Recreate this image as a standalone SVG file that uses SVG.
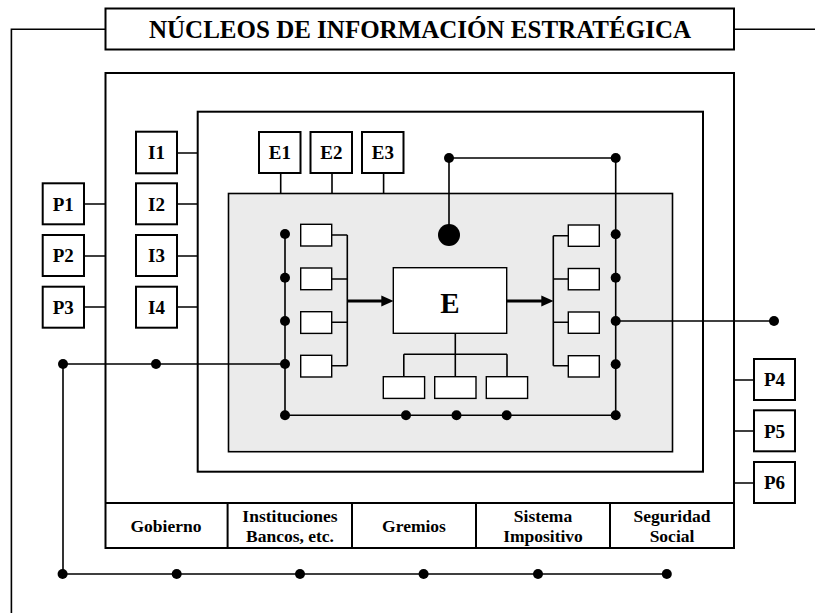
<svg xmlns="http://www.w3.org/2000/svg" width="815" height="613" viewBox="0 0 815 613">
<style>
.frame{fill:none;stroke:#000;stroke-width:2}
.box{fill:#fff;stroke:#000;stroke-width:2}
.sbox{fill:#fff;stroke:#000;stroke-width:1.4}
.grey{fill:#ebebeb;stroke:#000;stroke-width:1.6}
.ln{fill:none;stroke:#000;stroke-width:1.6}
.arr{fill:none;stroke:#000;stroke-width:3;marker-end:url(#ah)}
.dot{fill:#000}
text{font-family:"Liberation Serif","Times New Roman",serif;font-weight:bold;fill:#000;text-anchor:middle}
.lbl{font-size:19px}
.tbl{font-size:17.5px}
</style>
<defs>
<marker id="ah" markerUnits="userSpaceOnUse" markerWidth="12" markerHeight="12" refX="4" refY="6" orient="auto">
<path d="M0,0.5 L12,6 L0,11.5 z" fill="#000"/>
</marker>
</defs>
<rect width="815" height="613" fill="#fff"/>

<g id="title">
<rect class="box" x="105.5" y="8.5" width="628.5" height="41"/>
<text x="420" y="38" font-size="25">NÚCLEOS DE INFORMACIÓN ESTRATÉGICA</text>
</g>

<g id="outer-frame">
<rect class="frame" x="105.5" y="73" width="628.5" height="475"/>
</g>

<g id="table">
<path class="frame" d="M105.5,503 H734 M227.6,503 V548 M352,503 V548 M476,503 V548 M610,503 V548"/>
<text class="tbl" x="166" y="531.7">Gobierno</text>
<text class="tbl" x="290" y="521.7">Instituciones</text>
<text class="tbl" x="290" y="541.7">Bancos, etc.</text>
<text class="tbl" x="414" y="531.7">Gremios</text>
<text class="tbl" x="543" y="521.7">Sistema</text>
<text class="tbl" x="543" y="541.7">Impositivo</text>
<text class="tbl" x="672" y="521.7">Seguridad</text>
<text class="tbl" x="672" y="541.7">Social</text>
</g>

<g id="inner-frame">
<rect class="frame" x="197.7" y="111.7" width="505.3" height="360"/>
</g>

<g id="grey-area">
<rect class="grey" x="228.5" y="193.5" width="444" height="258.2"/>
</g>

<g id="connectors">
<path class="ln" d="M105.5,29.3 H11.4 V613 M734,29.3 H815"/>
<path class="ln" d="M84,204 H105.5 M84,256 H105.5 M84,307 H105.5"/>
<path class="ln" d="M734,380 H754 M734,431 H754 M734,483 H754"/>
<path class="ln" d="M177,153 H197.7 M177,204 H197.7 M177,256 H197.7 M177,307 H197.7"/>
<path class="ln" d="M280.7,173 V193.5 M332,173 V193.5 M383.6,173 V193.5"/>
<path class="ln" d="M449,158 H615.7 M449,158 V235 M615.7,158 V415.3"/>
<path class="ln" d="M285,234 V415.3 H615.7"/>
<path class="ln" d="M331.7,235 H347.3 M331.7,279 H347.3 M331.7,322.3 H347.3 M331.7,365.7 H347.3 M347.3,235 V365.7"/>
<path class="ln" d="M553.3,235.7 V365.7 M553.3,235.7 H568.3 M553.3,279 H568.3 M553.3,322.3 H568.3 M553.3,365.7 H568.3"/>
<path class="ln" d="M455.3,333.3 V354.3 M403.8,354.3 H507 M403.8,354.3 V376.7 M455.3,354.3 V376.7 M507,354.3 V376.7"/>
<path class="ln" d="M615.7,321 H774"/>
<path class="ln" d="M63,364 H285 M63,364 V574 H666.8"/>
<path class="arr" d="M347.3,301 H385.3"/>
<path class="arr" d="M506.7,301 H545.3"/>
<g class="dot">
<circle cx="449" cy="158" r="5"/>
<circle cx="615.7" cy="158" r="5"/>
<circle cx="449" cy="235" r="11"/>
<circle cx="285" cy="234" r="5"/>
<circle cx="285" cy="277.7" r="5"/>
<circle cx="285" cy="321" r="5"/>
<circle cx="285" cy="364" r="5"/>
<circle cx="285" cy="415.3" r="5"/>
<circle cx="615.7" cy="234.3" r="5"/>
<circle cx="615.7" cy="277.7" r="5"/>
<circle cx="615.7" cy="321" r="5"/>
<circle cx="615.7" cy="364.3" r="5"/>
<circle cx="615.7" cy="415.3" r="5"/>
<circle cx="406" cy="415.3" r="5"/>
<circle cx="456.5" cy="415.3" r="5"/>
<circle cx="506.7" cy="415.3" r="5"/>
<circle cx="774" cy="321" r="5"/>
<circle cx="63" cy="364" r="5"/>
<circle cx="156" cy="364" r="5"/>
<circle cx="62.6" cy="574" r="5"/>
<circle cx="176.7" cy="574" r="5"/>
<circle cx="300" cy="574" r="5"/>
<circle cx="423.6" cy="574" r="5"/>
<circle cx="538" cy="574" r="5"/>
<circle cx="666.8" cy="574" r="5"/>
</g>
</g>

<g id="P1"><rect class="box" x="42.7" y="183.3" width="41.3" height="41"/><text class="lbl" x="63.3" y="210.5">P1</text></g>
<g id="P2"><rect class="box" x="42.7" y="235" width="41.3" height="41"/><text class="lbl" x="63.3" y="262.2">P2</text></g>
<g id="P3"><rect class="box" x="42.7" y="286.7" width="41.3" height="41"/><text class="lbl" x="63.3" y="313.9">P3</text></g>
<g id="P4"><rect class="box" x="754" y="359" width="41" height="41"/><text class="lbl" x="774.5" y="386.2">P4</text></g>
<g id="P5"><rect class="box" x="754" y="410.3" width="41" height="41"/><text class="lbl" x="774.5" y="437.5">P5</text></g>
<g id="P6"><rect class="box" x="754" y="462" width="41" height="41"/><text class="lbl" x="774.5" y="489.2">P6</text></g>

<g id="I1"><rect class="box" x="136" y="131.7" width="41" height="41.6"/><text class="lbl" x="156.5" y="159.2">I1</text></g>
<g id="I2"><rect class="box" x="136" y="183.3" width="41" height="41"/><text class="lbl" x="156.5" y="210.5">I2</text></g>
<g id="I3"><rect class="box" x="136" y="235" width="41" height="41"/><text class="lbl" x="156.5" y="262.2">I3</text></g>
<g id="I4"><rect class="box" x="136" y="286.7" width="41" height="41"/><text class="lbl" x="156.5" y="313.9">I4</text></g>

<g id="E1"><rect class="box" x="259" y="132" width="41.5" height="41"/><text class="lbl" x="279.8" y="159.2">E1</text></g>
<g id="E2"><rect class="box" x="310.5" y="132" width="41.5" height="41"/><text class="lbl" x="331.3" y="159.2">E2</text></g>
<g id="E3"><rect class="box" x="362" y="132" width="41.5" height="41"/><text class="lbl" x="382.8" y="159.2">E3</text></g>

<g id="E">
<rect class="sbox" x="393.3" y="267.7" width="113.4" height="65.6"/>
<text x="450" y="312.5" font-size="29">E</text>
</g>

<g id="left-boxes">
<rect class="sbox" x="300.7" y="224.3" width="31" height="21.7"/>
<rect class="sbox" x="300.7" y="268" width="31" height="21.7"/>
<rect class="sbox" x="300.7" y="311.7" width="31" height="21.7"/>
<rect class="sbox" x="300.7" y="355.3" width="31" height="21.7"/>
</g>
<g id="right-boxes">
<rect class="sbox" x="568.3" y="225" width="31" height="21.3"/>
<rect class="sbox" x="568.3" y="268.5" width="31" height="21.3"/>
<rect class="sbox" x="568.3" y="312" width="31" height="21.3"/>
<rect class="sbox" x="568.3" y="355.7" width="31" height="21.3"/>
</g>
<g id="bottom-boxes">
<rect class="sbox" x="383.3" y="376.7" width="41.3" height="21.7"/>
<rect class="sbox" x="434.7" y="376.7" width="41.3" height="21.7"/>
<rect class="sbox" x="486.3" y="376.7" width="41.3" height="21.7"/>
</g>
</svg>
